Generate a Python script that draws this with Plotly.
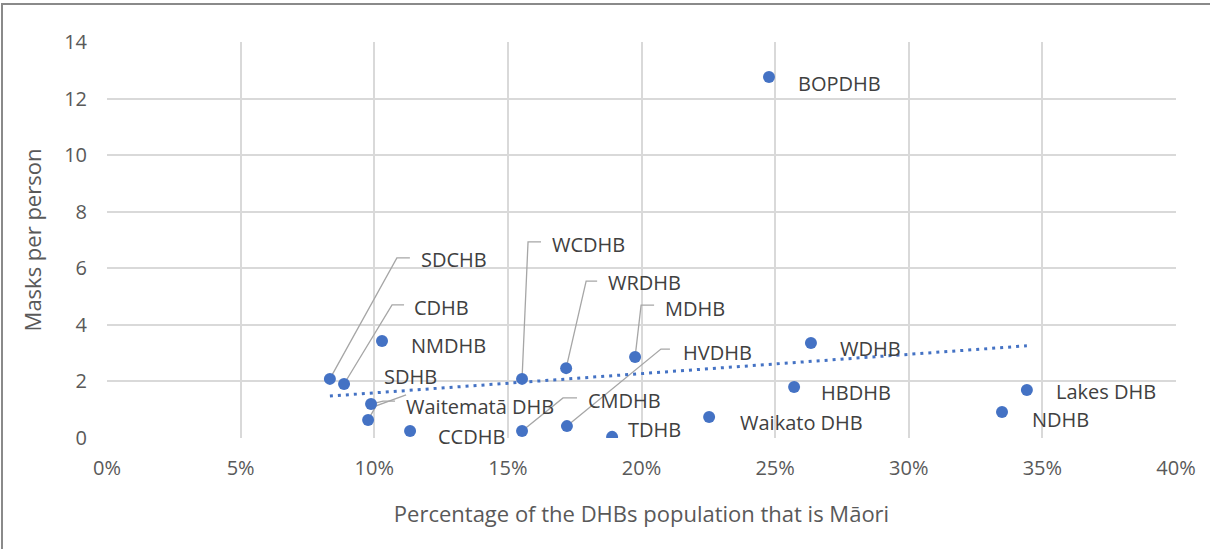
import numpy as np
import plotly.graph_objects as go

# ---- data ----
dhb = ["BOPDHB", "SDCHB", "CDHB", "NMDHB", "SDHB", "Waitematā DHB", "CCDHB", "WCDHB",
       "CMDHB", "WRDHB", "MDHB", "HVDHB", "TDHB", "Waikato DHB", "WDHB", "HBDHB",
       "NDHB", "Lakes DHB"]
maori_share = [0.2477, 0.0834, 0.0887, 0.1029, 0.0988, 0.0977, 0.1134, 0.1553,
               0.1553, 0.1718, 0.1976, 0.1721, 0.1890, 0.2253, 0.2634, 0.2571,
               0.3349, 0.3442]
masks_per_person = [12.76, 2.09, 1.91, 3.43, 1.20, 0.64, 0.25, 2.09,
                    0.25, 2.47, 2.86, 0.42, 0.04, 0.74, 3.36, 1.80,
                    0.92, 1.70]
x_ticks = [0, 0.05, 0.10, 0.15, 0.20, 0.25, 0.30, 0.35, 0.40]
x_tick_labels = ["0%", "5%", "10%", "15%", "20%", "25%", "30%", "35%", "40%"]
y_ticks = [0, 2, 4, 6, 8, 10, 12, 14]

# ---- layout constants ----
W, H = 1210, 549
ML, MR, MT, MB = 107, 34, 42, 111
PW, PH = W - ML - MR, H - MT - MB
XR, YR = (0, 0.40), (0, 14)
sx = PW / (XR[1] - XR[0])   # px per x unit
sy = PH / (YR[1] - YR[0])   # px per y unit

BLUE = "#4472C4"
FONT = "'Open Sans', sans-serif"

# label offsets (px from point to label's left-middle; +dy is down on screen)
label_off = {
    "BOPDHB": (27, 6), "SDCHB": (89, -119), "CDHB": (68, -76), "NMDHB": (27, 5),
    "SDHB": (11, -28), "Waitematā DHB": (36, -13), "CCDHB": (26, 6),
    "WCDHB": (28, -134), "CMDHB": (64, -30), "WRDHB": (40, -86), "MDHB": (28, -49),
    "HVDHB": (114, -74), "TDHB": (14, -7), "Waikato DHB": (29, 5), "WDHB": (27, 6),
    "HBDHB": (25, 5), "NDHB": (28, 8), "Lakes DHB": (27, 2),
}
# leader line vertices (px offsets from point)
leaders = {
    "SDCHB": [(0, 0), (67, -121), (80, -121)],
    "CDHB": [(0, 0), (48, -79), (60, -79)],
    "WCDHB": [(0, 0), (6, -137), (19, -137)],
    "WRDHB": [(0, 0), (20, -87), (31, -87)],
    "MDHB": [(0, 0), (6, -52), (19, -52)],
    "HVDHB": [(0, 0), (94, -77), (103, -77)],
    "CMDHB": [(0, 0), (41, -33), (55, -33)],
    "Waitematā DHB": [(0, 0), (8, -14), (38, -25)],
    "SDHB": [(0, 0), (12, -3), (24, -3)],
}

fig = go.Figure()

# leader lines
for name, verts in leaders.items():
    i = dhb.index(name)
    xs = [maori_share[i] + dx / sx for dx, dy in verts]
    ys = [masks_per_person[i] - dy / sy for dx, dy in verts]
    fig.add_trace(go.Scatter(x=xs, y=ys, mode="lines",
                             line=dict(color="#a6a6a6", width=1.3),
                             hoverinfo="skip", showlegend=False))

# linear trendline (least squares over the data)
slope, intercept = np.polyfit(maori_share, masks_per_person, 1)
tx = [min(maori_share), max(maori_share)]
ty = [slope * v + intercept for v in tx]
fig.add_trace(go.Scatter(x=tx, y=ty, mode="lines",
                         line=dict(color=BLUE, width=3, dash="3px,5px"),
                         hoverinfo="skip", showlegend=False))

# points
fig.add_trace(go.Scatter(x=maori_share, y=masks_per_person, mode="markers",
                         marker=dict(color=BLUE, size=12),
                         text=dhb, showlegend=False))

# labels
for name, xv, yv in zip(dhb, maori_share, masks_per_person):
    dx, dy = label_off[name]
    fig.add_annotation(x=xv, y=yv, xref="x", yref="y", text=name,
                       showarrow=False, xanchor="left", yanchor="middle",
                       xshift=dx, yshift=-dy,
                       font=dict(family=FONT, size=20, color="#404040"))

# outer chart border (left/top visible, right/bottom cropped)
fig.add_shape(type="rect", xref="paper", yref="paper", layer="above",
              x0=(2 - ML) / PW, x1=(W + 6 - ML) / PW,
              y0=(H - MB - (H + 6)) / PH, y1=(H - MB - 4) / PH,
              line=dict(color="#8a8a8a", width=2), fillcolor="rgba(0,0,0,0)")

axis_common = dict(showgrid=True, gridcolor="#d9d9d9", gridwidth=1.5,
                   zeroline=False, showline=False,
                   tickfont=dict(family=FONT, size=20, color="#595959"),
                   ticks="")

fig.update_layout(
    width=W, height=H,
    margin=dict(l=ML, r=MR, t=MT, b=MB),
    paper_bgcolor="white", plot_bgcolor="white",
    xaxis=dict(range=list(XR), tickvals=x_ticks, ticktext=x_tick_labels,
               ticklabelstandoff=16,
               title=dict(text="Percentage of the DHBs population that is Māori",
                          font=dict(family=FONT, size=22, color="#595959"),
                          standoff=26),
               **axis_common),
    yaxis=dict(range=list(YR), tickvals=y_ticks, ticklabelstandoff=19,
               title=dict(text="Masks per person",
                          font=dict(family=FONT, size=22, color="#595959"),
                          standoff=16),
               **axis_common),
)

fig.write_html("out.html", config={"displayModeBar": False},
               post_script="document.body.style.margin='0';")
